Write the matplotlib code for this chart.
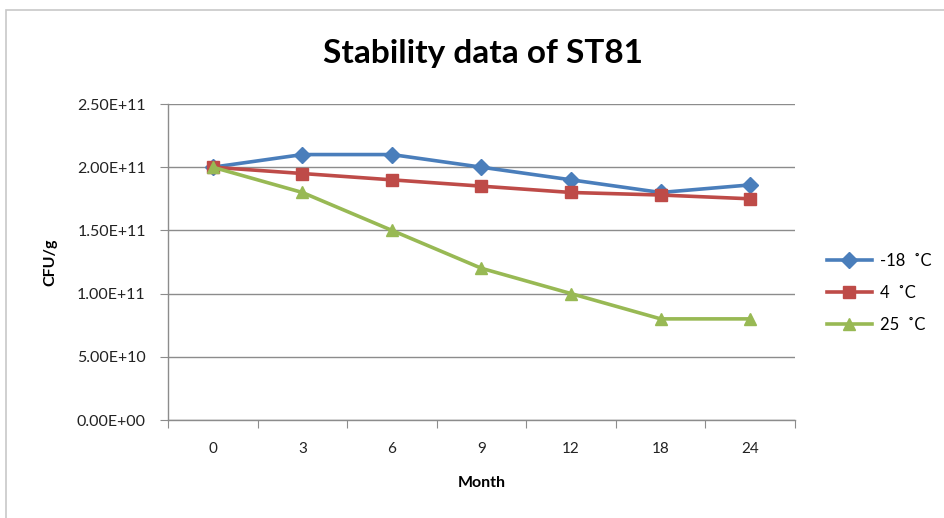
import matplotlib.pyplot as plt
from matplotlib.patches import Rectangle


months       = ["0", "3", "6", "9", "12", "18", "24"]
minus18_cfu  = [2.00e11, 2.10e11, 2.10e11, 2.00e11, 1.90e11, 1.80e11, 1.86e11]
plus4_cfu    = [2.00e11, 1.95e11, 1.90e11, 1.85e11, 1.80e11, 1.78e11, 1.75e11]
plus25_cfu   = [2.00e11, 1.80e11, 1.50e11, 1.20e11, 1.00e11, 0.80e11, 0.80e11]
series_names = ["-18  \u02daC", "4  \u02daC", "25  \u02daC"]
y_ticks      = [0, 5e10, 1e11, 1.5e11, 2e11, 2.5e11]


def fmt_sci(v):
  # format Excel style: 2.50E+11
  return f"{v:.2E}"


def main():
  plt.rcParams["font.family"] = ["Lato", "DejaVu Sans"]

  fig = plt.figure(figsize=(9.44, 5.18), dpi=100)
  fig.patch.set_facecolor("white")

  # cadre du graphique
  fig.patches.append(Rectangle((6 / 944, -0.1), 1.1, 1 - 10 / 518 + 0.1,
                               transform=fig.transFigure, fill=False,
                               edgecolor="#c8c8c8", linewidth=1.2))

  ax = fig.add_axes([168 / 944, 1 - 420 / 518, (795 - 168) / 944, (420 - 104) / 518])

  x = list(range(len(months)))
  styles = [
    (minus18_cfu, "#4A7EBB", "D", 8),
    (plus4_cfu,   "#BE4B48", "s", 8.5),
    (plus25_cfu,  "#98B954", "^", 9),
  ]
  for (vals, color, marker, ms), name in zip(styles, series_names):
    ax.plot(x, vals, color=color, marker=marker, markersize=ms,
            linewidth=2.6, label=name, zorder=3)

  ax.set_xlim(-0.5, len(months) - 0.5)
  ax.set_ylim(0, 2.5e11)

  ax.set_yticks(y_ticks)
  ax.set_yticklabels([fmt_sci(v) for v in y_ticks], fontsize=11.5, color="#222222")
  ax.grid(axis="y", color="#8c8c8c", linewidth=1)
  ax.set_axisbelow(True)

  # ticks entre les catégories
  ax.set_xticks([i - 0.5 for i in range(len(months) + 1)])
  ax.set_xticklabels([])
  ax.set_xticks(x, minor=True)
  ax.set_xticklabels(months, minor=True, fontsize=11, color="#222222")
  ax.tick_params(axis="x", which="major", length=6, color="#8c8c8c", direction="out")
  ax.tick_params(axis="x", which="minor", length=0, pad=16)
  ax.tick_params(axis="y", length=6, color="#8c8c8c", direction="out", pad=10)

  for side in ["top", "right"]:
    ax.spines[side].set_visible(False)
  for side in ["left", "bottom"]:
    ax.spines[side].set_color("#8c8c8c")
    ax.spines[side].set_linewidth(1)

  ax.set_xlabel("Month", fontsize=11.5, fontweight="bold", labelpad=14)
  ax.set_ylabel("CFU/g", fontsize=11.5, fontweight="bold", labelpad=14)

  fig.text(483 / 944, 1 - 54 / 518, "Stability data of ST81", ha="center", va="center",
           fontsize=24, fontweight="bold")

  ax.legend(loc="center left", bbox_to_anchor=(1.027, 0.402), frameon=False,
            fontsize=12, handlelength=2.7, labelspacing=0.95, handletextpad=0.5)

  plt.savefig("out.png", dpi=100)
  plt.close()


if __name__ == "__main__":
  main()
